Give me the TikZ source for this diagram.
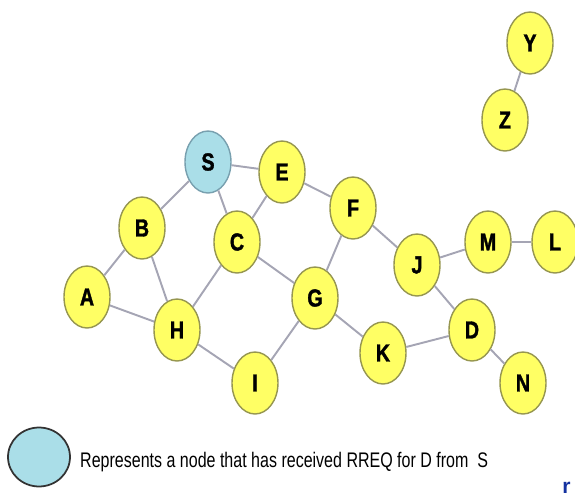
\documentclass[tikz,border=0pt]{standalone}
\usepackage{fontspec}
\setmainfont{Liberation Sans}
\newfontfamily\simpulfont[FakeStretch=0.8, FakeBold=1.5]{Liberation Sans}
\newfontfamily\ketfont[FakeStretch=0.76]{Liberation Sans}
\usetikzlibrary{positioning, shapes.geometric}
\definecolor{kuning}{RGB}{255,255,100}
\definecolor{tepikuning}{RGB}{150,150,80}
\definecolor{biru}{RGB}{170,222,232}
\definecolor{tepibiru}{RGB}{120,160,175}
\definecolor{garis}{RGB}{165,165,180}
\definecolor{birutua}{RGB}{20,50,160}

\begin{document}
\begin{tikzpicture}[
        x=0.02cm, y=-0.02cm,
        simpul/.style={ellipse, draw=tepikuning, line width=0.8pt, fill=kuning, minimum width=0.92cm, minimum height=1.24cm, inner sep=0pt, font=\simpulfont\bfseries\fontsize{14}{16}\selectfont},
        simpul_rreq/.style={simpul, draw=tepibiru, fill=biru},
        sisi/.style={draw=garis, line width=1.1pt}
    ]
    \useasboundingbox (0,0) rectangle (575,497);

    % Simpul
    \node[simpul_rreq] (S) at (208,162) {S};
    \node[simpul] (E) at (282,172) {E};
    \node[simpul] (B) at (142,228) {B};
    \node[simpul] (C) at (237,242) {C};
    \node[simpul] (F) at (353,208) {F};
    \node[simpul] (A) at (87,297) {A};
    \node[simpul] (H) at (177,330) {H};
    \node[simpul] (G) at (315,298) {G};
    \node[simpul] (I) at (255,383) {I};
    \node[simpul] (K) at (383,353) {K};
    \node[simpul] (J) at (417,265) {J};
    \node[simpul] (M) at (488,242) {M};
    \node[simpul] (L) at (555,242) {L};
    \node[simpul] (D) at (472,330) {D};
    \node[simpul] (N) at (523,383) {N};
    \node[simpul] (Y) at (530,43) {Y};
    \node[simpul] (Z) at (505,120) {Z};

    % Sisi
    \draw[sisi] (S) -- (E);
    \draw[sisi] (S) -- (B);
    \draw[sisi] (S) -- (C);
    \draw[sisi] (E) -- (C);
    \draw[sisi] (E) -- (F);
    \draw[sisi] (B) -- (A);
    \draw[sisi] (B) -- (H);
    \draw[sisi] (A) -- (H);
    \draw[sisi] (C) -- (H);
    \draw[sisi] (C) -- (G);
    \draw[sisi] (F) -- (G);
    \draw[sisi] (F) -- (J);
    \draw[sisi] (H) -- (I);
    \draw[sisi] (G) -- (I);
    \draw[sisi] (G) -- (K);
    \draw[sisi] (K) -- (D);
    \draw[sisi] (J) -- (D);
    \draw[sisi] (J) -- (M);
    \draw[sisi] (M) -- (L);
    \draw[sisi] (D) -- (N);
    \draw[sisi] (Y) -- (Z);

    % Keterangan
    \node[ellipse, draw=black!80, line width=1pt, fill=biru, minimum width=1.24cm, minimum height=1.18cm, inner sep=0pt] (ket) at (39,457) {};
    \node[anchor=west, inner sep=0pt, font=\ketfont\fontsize{12}{14}\selectfont, right=0.18cm of ket, yshift=-0.1cm] (ket_teks) {Represents a node that has received RREQ for D from~~S};
    \node[anchor=south east, inner sep=0pt, text=birutua, font=\bfseries\fontsize{12}{14}\selectfont] (potong) at (571,494) {r};

\end{tikzpicture}
\end{document}
